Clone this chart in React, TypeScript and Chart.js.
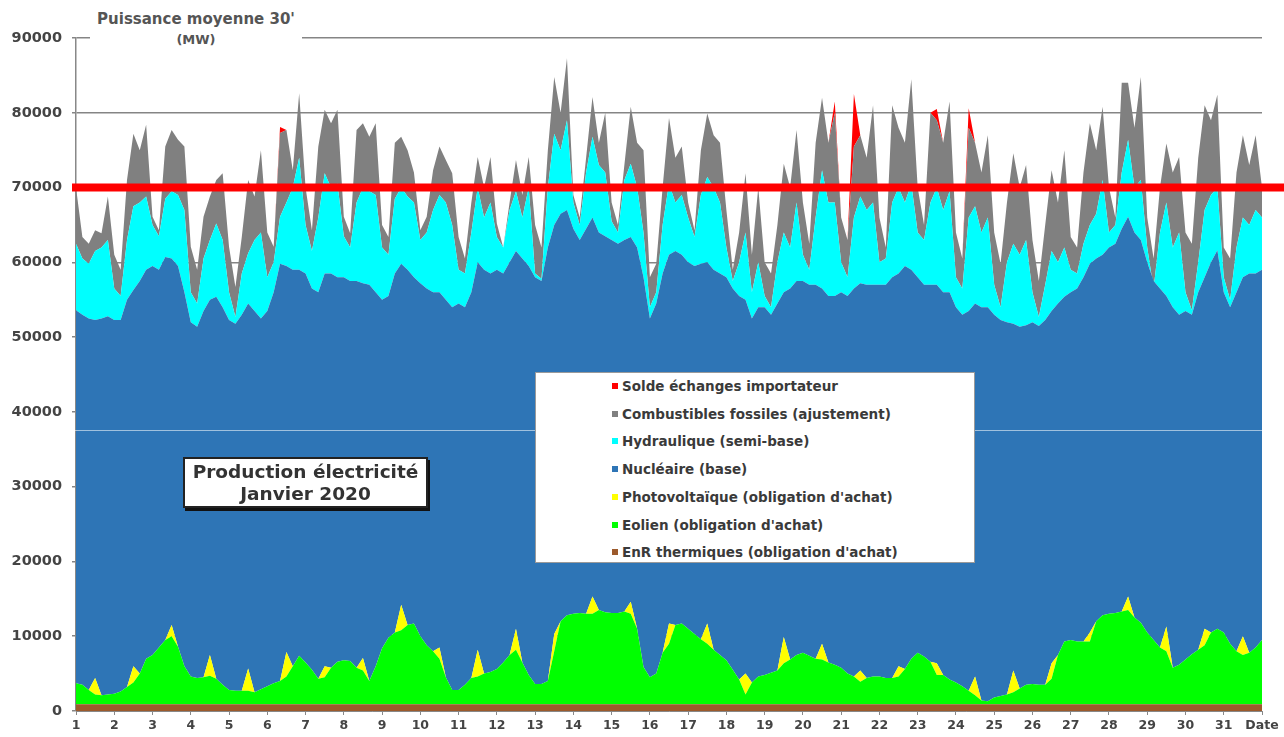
import React, { useEffect, useRef } from "react";
import { Chart, registerables } from "chart.js";

Chart.register(...registerables);

// Pas d'échantillonnage : 6 points par jour (0h, 4h, 8h, 12h, 16h, 20h), 31 jours + point final
const HEURES_PAR_POINT = 4;
const JOURS = Array.from({ length: 31 }, (_, i) => String(i + 1));
const GRADUATIONS_Y = [0, 10000, 20000, 30000, 40000, 50000, 60000, 70000, 80000, 90000];
const SEUIL = 70000;

// Niveaux cumulés (haut de chaque couche, MW)
const niveauEnR = [
  900, 900, 900, 900, 900, 900,
  900, 900, 900, 900, 900, 900,
  900, 900, 900, 900, 900, 900,
  900, 900, 900, 900, 900, 900,
  900, 900, 900, 900, 900, 900,
  900, 900, 900, 900, 900, 900,
  900, 900, 900, 900, 900, 900,
  900, 900, 900, 900, 900, 900,
  900, 900, 900, 900, 900, 900,
  900, 900, 900, 900, 900, 900,
  900, 900, 900, 900, 900, 900,
  900, 900, 900, 900, 900, 900,
  900, 900, 900, 900, 900, 900,
  900, 900, 900, 900, 900, 900,
  900, 900, 900, 900, 900, 900,
  900, 900, 900, 900, 900, 900,
  900, 900, 900, 900, 900, 900,
  900, 900, 900, 900, 900, 900,
  900, 900, 900, 900, 900, 900,
  900, 900, 900, 900, 900, 900,
  900, 900, 900, 900, 900, 900,
  900, 900, 900, 900, 900, 900,
  900, 900, 900, 900, 900, 900,
  900, 900, 900, 900, 900, 900,
  900, 900, 900, 900, 900, 900,
  900, 900, 900, 900, 900, 900,
  900, 900, 900, 900, 900, 900,
  900, 900, 900, 900, 900, 900,
  900, 900, 900, 900, 900, 900,
  900, 900, 900, 900, 900, 900,
  900, 900, 900, 900, 900, 900,
  900,
];

const niveauEolien = [
  3700, 3500, 2800, 2200, 2100, 2200,
  2300, 2600, 3200, 3800, 5000, 7000,
  7500, 8500, 9500, 10000, 8600, 6000,
  4600, 4400, 4500, 4700, 4300, 3500,
  2800, 2700, 2700, 2700, 2500, 2900,
  3300, 3700, 4000, 4600, 6000, 7400,
  6500, 5500, 4300, 4500, 5800, 6600,
  6800, 6700, 5800, 5400, 4000, 6000,
  8400, 9800, 10500, 10800, 11500, 11700,
  10000, 8800, 8000, 7000, 4500, 2800,
  2800, 3500, 4400, 4600, 5000, 5200,
  5600, 6500, 7500, 8200, 6500, 4800,
  3600, 3600, 4000, 8000, 12000, 12800,
  13000, 13100, 13000, 13000, 13500, 13200,
  13100, 13100, 13300, 13000, 11000, 5900,
  4500, 5000, 7800, 9000, 11500, 11700,
  11000, 10300, 9600, 9000, 8200, 7500,
  6800, 5500, 4200, 2200, 3800, 4600,
  4800, 5100, 5400, 6400, 6900, 7500,
  7800, 7400, 7000, 6900, 6500, 6200,
  5800, 5000, 4600, 3900, 4400, 4600,
  4600, 4400, 4400, 4600, 5600, 7000,
  7800, 7300, 6600, 4800, 4800, 4200,
  3800, 3300, 2700, 2100, 1400, 1300,
  1800, 2000, 2200, 2500, 3000, 3500,
  3600, 3500, 3500, 4300, 7500, 9300,
  9500, 9300, 9300, 9300, 12000, 12800,
  13000, 13100, 13300, 13500, 12500, 11800,
  10500, 9500, 8500, 8000, 5800, 6200,
  6900, 7600, 8200, 8800, 10500, 11000,
  10500, 9000, 8000, 7500, 7800, 8500,
  9500,
];

// Photovoltaïque : production propre (MW), non nulle en milieu de journée
const photovoltaique = [
  0, 0, 0, 2200, 0, 0,
  0, 0, 0, 2200, 0, 0,
  0, 0, 0, 1500, 0, 0,
  0, 0, 0, 2800, 0, 0,
  0, 0, 0, 3000, 0, 0,
  0, 0, 0, 3300, 0, 0,
  0, 0, 0, 1500, 0, 0,
  0, 0, 0, 1700, 0, 0,
  0, 0, 0, 3400, 0, 0,
  0, 0, 0, 1500, 0, 0,
  0, 0, 0, 3600, 0, 0,
  0, 0, 0, 2800, 0, 0,
  0, 0, 0, 2300, 0, 0,
  0, 0, 0, 2300, 0, 0,
  0, 0, 0, 1600, 0, 0,
  0, 0, 0, 2700, 0, 0,
  0, 0, 0, 2700, 0, 0,
  0, 0, 0, 2800, 0, 0,
  0, 0, 0, 3500, 0, 0,
  0, 0, 0, 2100, 0, 0,
  0, 0, 0, 1500, 0, 0,
  0, 0, 0, 1400, 0, 0,
  0, 0, 0, 1600, 0, 0,
  0, 0, 0, 2500, 0, 0,
  0, 0, 0, 2900, 0, 0,
  0, 0, 0, 2100, 0, 0,
  0, 0, 0, 1200, 0, 0,
  0, 0, 0, 1800, 0, 0,
  0, 0, 0, 3300, 0, 0,
  0, 0, 0, 2200, 0, 0,
  0, 0, 0, 2500, 0, 0,
  0,
];

const niveauNucleaire = [
  53600, 53000, 52500, 52300, 52500, 52800,
  52300, 52300, 55000, 56300, 57500, 59000,
  59500, 59000, 60700, 60500, 59500, 56000,
  52000, 51400, 53500, 55000, 55400, 54000,
  52300, 51800, 53000, 54500, 53500, 52500,
  53500, 56000, 59800, 59500, 59000, 59000,
  58500, 56500, 56000, 58500, 58500, 58000,
  58000, 57500, 57500, 57200, 57000, 56000,
  55000, 55500, 58500, 59800, 59000, 58000,
  57200, 56500, 56000, 56000, 55000, 54000,
  54500, 54000, 56000, 60000, 59000, 58500,
  59000, 58500, 60000, 61500, 60500, 59500,
  58000, 57500, 62000, 65000, 66500, 67000,
  64500, 63000, 64500, 66000, 64000, 63500,
  63000, 62500, 63000, 63400, 62000, 58000,
  52500, 54500, 58500, 61000, 61500, 61000,
  60000, 59500, 59800, 60000, 59000, 58500,
  58000, 56500, 55500, 55000, 52500, 54000,
  54000, 53000, 54500, 56000, 56500, 57500,
  57500, 57000, 57000, 56500, 55500, 55500,
  56000, 55500, 56500, 57200, 57000, 57000,
  57000, 57000, 58000, 58500, 59500, 59000,
  58000, 57000, 57000, 57000, 56000, 56000,
  54000, 53000, 53500, 54500, 54000, 54000,
  53000, 52300, 52000, 51800, 51400, 51600,
  52000, 51500, 52300, 53500, 54500, 55400,
  56000, 56500, 58000, 59800, 60500, 61000,
  62000, 62500, 64500, 66100, 64000, 63000,
  60000, 57500, 56500, 55500, 54000, 53000,
  53500, 53000, 56000, 58000, 60000, 61600,
  56000, 54000, 56000, 58000, 58500, 58500,
  59000,
];

const niveauHydraulique = [
  62500, 60500, 59800, 61500, 62000, 63000,
  56500, 55500, 63000, 67500, 68000, 68800,
  65000, 63500, 68500, 69500, 69000, 67000,
  56000, 54500, 60500, 63000, 65200, 63000,
  56000, 52700, 58500, 61200, 63000, 64000,
  58000, 60000, 66100, 68000, 70000, 74000,
  65000, 61500, 66000, 71900, 70000, 70500,
  63500, 62000, 68000, 70000, 69500, 69000,
  62000, 61000, 68500, 70000, 68800, 68000,
  63000, 64000, 67000, 69000, 68000, 65000,
  59000, 58500, 64000, 70000, 66000, 68000,
  63400, 62000, 67000, 69500, 66000, 70000,
  58500, 57800, 70000, 77200, 75000, 79000,
  68000, 65000, 72000, 76800, 73000, 72000,
  65500, 64000, 71000, 73200, 70000, 64000,
  54000, 56000, 65000, 70500, 68000, 69000,
  66000, 63400, 69000, 71400, 70000, 68000,
  62000, 57500, 60000, 64000, 56000, 60000,
  55500, 54000, 60000, 64000, 62000, 68000,
  61000, 59000, 66000, 72300, 68000, 68000,
  60000, 58000, 66000, 68800, 67000, 68000,
  60000, 60500, 68000, 70000, 68000, 70500,
  64000, 63000, 68000, 70000, 67000, 69500,
  58000, 56500, 66000, 67500, 64000, 66000,
  57000, 54000, 60000, 62500, 61000, 63000,
  56000, 52700, 57000, 61500, 60000, 62000,
  59000, 58500, 62500, 65000, 66500, 71000,
  64000, 65000, 72000, 76400, 70000, 71000,
  62000, 56500, 64000, 68000, 62000, 64000,
  56000, 53600, 60000, 67000, 69000, 70000,
  58000, 55000, 62000, 66000, 65000, 67000,
  66000,
];

const niveauFossiles = [
  70000, 63400, 62500, 64300, 63900, 68800,
  61000, 59000, 71000, 77200, 75000, 78400,
  66100, 64300, 75500, 77700, 76400, 75500,
  62100, 59000, 66100, 68800, 71000, 71900,
  62100, 56700, 63400, 71000, 68800, 75000,
  64000, 62100, 77300, 77700, 72300, 82600,
  70000, 64300, 75500, 80400, 78600, 80400,
  66100, 63900, 77700, 78600, 76800, 78600,
  65000, 63400, 76000, 76800, 75000, 72000,
  64300, 66100, 72300, 75500, 73700, 71900,
  63400, 60500, 68000, 74100, 70000, 74100,
  65200, 62000, 68000, 73700, 69000, 74100,
  65000, 62000, 75000, 84800, 80000, 87300,
  69000, 66000, 74000, 82100, 76000, 80000,
  68000, 65000, 73000, 80800, 76000, 75000,
  58000, 59800, 70000, 79300, 74000, 75500,
  68000, 64300, 75000, 79900, 77000, 76000,
  67000, 59000, 64000, 71900, 61000, 70000,
  60000, 58500, 65000, 73200, 70000, 77700,
  68000, 62500, 76000, 82000, 76000, 80000,
  66000, 63000, 75500, 77000, 74000, 81000,
  66000, 62000, 81000, 78000, 76000, 84500,
  70000, 65000, 80000, 79000, 76000, 81500,
  64000, 60500, 78000, 76000, 72000, 77000,
  64000, 59800, 68000, 74600, 70000, 73000,
  63000, 57500, 65000, 72300, 68000, 75000,
  63400, 62000, 72000, 78600, 75000, 80800,
  70000, 66000, 84000, 84000, 78000, 84800,
  66000, 60500, 70000, 75900, 72000, 74100,
  64000, 62500, 74000, 81000, 79000, 82400,
  62000, 60500, 72000, 77000, 73000, 77000,
  70000,
];

// Solde des échanges importateur : production propre (MW), rares pointes
const soldeImport = [
  0, 0, 0, 0, 0, 0,
  0, 0, 0, 0, 0, 0,
  0, 0, 0, 0, 0, 0,
  0, 0, 0, 0, 0, 0,
  0, 0, 0, 0, 0, 0,
  0, 0, 800, 0, 0, 0,
  0, 0, 0, 0, 0, 0,
  0, 0, 0, 0, 0, 0,
  0, 0, 0, 0, 0, 0,
  0, 0, 0, 0, 0, 0,
  0, 0, 0, 0, 0, 0,
  0, 0, 0, 0, 0, 0,
  0, 0, 0, 0, 0, 0,
  0, 0, 0, 0, 0, 0,
  0, 0, 0, 0, 0, 0,
  0, 0, 0, 0, 0, 0,
  0, 0, 0, 0, 0, 0,
  0, 0, 0, 0, 0, 0,
  0, 0, 0, 0, 0, 0,
  0, 0, 0, 0, 0, 1500,
  0, 0, 7000, 0, 0, 0,
  0, 0, 0, 0, 0, 0,
  0, 0, 0, 1500, 0, 0,
  0, 0, 2600, 0, 0, 0,
  0, 0, 0, 0, 0, 0,
  0, 0, 0, 0, 0, 0,
  0, 0, 0, 0, 0, 0,
  0, 0, 0, 0, 0, 0,
  0, 0, 0, 0, 0, 0,
  0, 0, 0, 0, 0, 0,
  0, 0, 0, 0, 0, 0,
  0,
];

const COULEURS = {
  solde: "#FF0000",
  fossiles: "#808080",
  hydraulique: "#00FFFF",
  nucleaire: "#2E75B6",
  pv: "#FFFF00",
  eolien: "#00FF00",
  enr: "#9C5A2C",
};

const LEGENDE = [
  { label: "Solde échanges importateur", color: COULEURS.solde },
  { label: "Combustibles fossiles (ajustement)", color: COULEURS.fossiles },
  { label: "Hydraulique (semi-base)", color: COULEURS.hydraulique },
  { label: "Nucléaire (base)", color: COULEURS.nucleaire },
  { label: "Photovoltaïque (obligation d'achat)", color: COULEURS.pv },
  { label: "Eolien (obligation d'achat)", color: COULEURS.eolien },
  { label: "EnR thermiques (obligation d'achat)", color: COULEURS.enr },
];

const FONT = "'DejaVu Sans', 'Liberation Sans', sans-serif";

const seuilPlugin = {
  id: "seuil",
  afterDatasetsDraw(chart: any) {
    const { ctx, scales } = chart;
    const y = scales.y.getPixelForValue(SEUIL);
    const yArt = scales.y.getPixelForValue(37600);
    ctx.save();
    ctx.strokeStyle = "rgba(255,255,255,0.55)";
    ctx.lineWidth = 1;
    ctx.beginPath();
    ctx.moveTo(0, Math.round(yArt) + 0.5);
    ctx.lineTo(chart.width, Math.round(yArt) + 0.5);
    ctx.stroke();
    ctx.strokeStyle = "#FF0000";
    ctx.lineWidth = 8;
    ctx.beginPath();
    ctx.moveTo(scales.x.left - 4, y);
    ctx.lineTo(chart.width, y);
    ctx.stroke();
    ctx.restore();
  },
};

export default function App() {
  const ref = useRef<HTMLCanvasElement>(null);

  useEffect(() => {
    if (!ref.current) return;
    const pts = (arr: number[]) =>
      arr.map((y, i) => ({ x: 1 + (i * HEURES_PAR_POINT) / 24, y }));
    const niveauPV = niveauEolien.map((v, i) => v + photovoltaique[i]);
    const niveauSolde = niveauFossiles.map((v, i) => v + soldeImport[i]);

    const ds = (label: string, data: number[], color: string, fill: any) => ({
      label,
      data: pts(data),
      backgroundColor: color,
      borderColor: color,
      borderWidth: 0,
      pointRadius: 0,
      tension: 0,
      fill,
    });

    const chart = new Chart(ref.current, {
      type: "line",
      data: {
        datasets: [
          ds(LEGENDE[6].label, niveauEnR, COULEURS.enr, "origin"),
          ds(LEGENDE[5].label, niveauEolien, COULEURS.eolien, "-1"),
          ds(LEGENDE[4].label, niveauPV, COULEURS.pv, "-1"),
          ds(LEGENDE[3].label, niveauNucleaire, COULEURS.nucleaire, "-1"),
          ds(LEGENDE[2].label, niveauHydraulique, COULEURS.hydraulique, "-1"),
          ds(LEGENDE[1].label, niveauFossiles, COULEURS.fossiles, "-1"),
          ds(LEGENDE[0].label, niveauSolde, COULEURS.solde, "-1"),
        ],
      },
      options: {
        responsive: false,
        animation: false,
        layout: { padding: { top: 38, right: 22, left: 0, bottom: 0 } },
        plugins: { legend: { display: false }, tooltip: { enabled: false } },
        scales: {
          x: {
            type: "linear",
            min: 1,
            max: 32,
            afterFit: (s: any) => {
              s.height = 26;
            },
            afterBuildTicks: (s: any) => {
              s.ticks = Array.from({ length: 32 }, (_, i) => ({ value: i + 1 }));
            },
            ticks: {
              autoSkip: false,
              maxRotation: 0,
              padding: 3,
              color: "#444",
              font: { family: FONT, weight: "bold", size: 12.5 },
              callback: (v: any) => (v === 32 ? "Date" : JOURS[v - 1]),
            },
            grid: { drawOnChartArea: false, drawTicks: true, tickLength: 4, color: "#888" },
            border: { color: "#888", width: 1 },
          },
          y: {
            min: 0,
            max: 90000,
            afterFit: (s: any) => {
              s.width = 76;
            },
            afterBuildTicks: (s: any) => {
              s.ticks = GRADUATIONS_Y.map((v) => ({ value: v }));
            },
            ticks: {
              padding: 10,
              color: "#444",
              font: { family: FONT, weight: "bold", size: 14.5 },
              callback: (v: any) => String(v),
            },
            grid: { color: "#858585", lineWidth: 1.5, tickLength: 4 },
            border: { color: "#888", width: 1.5 },
          },
        },
      } as any,
      plugins: [seuilPlugin],
    });
    return () => chart.destroy();
  }, []);

  return (
    <div
      style={{
        position: "fixed",
        left: 0,
        top: 0,
        width: 1284,
        height: 737,
        background: "#fff",
        overflow: "hidden",
      }}
    >
      <canvas ref={ref} width={1284} height={737} style={{ position: "absolute", left: 0, top: 0 }} />
      <div
        style={{
          position: "absolute",
          left: 90,
          top: 8,
          width: 212,
          height: 44,
          background: "#fff",
          textAlign: "center",
          fontFamily: FONT,
          fontWeight: "bold",
          color: "#555",
        }}
      >
        <div style={{ position: "absolute", left: 0, right: 0, top: 2, fontSize: 15, lineHeight: "19px" }}>
          Puissance moyenne 30'
        </div>
        <div style={{ position: "absolute", left: 0, right: 0, top: 24, fontSize: 13, lineHeight: "16px" }}>
          (MW)
        </div>
      </div>
      <div
        style={{
          position: "absolute",
          left: 535,
          top: 372,
          width: 440,
          height: 191,
          background: "#fff",
          border: "1px solid #9a9a9a",
          boxSizing: "border-box",
          fontFamily: FONT,
          fontWeight: "bold",
          fontSize: 13.5,
          color: "#3a3a3a",
        }}
      >
        {LEGENDE.map((it, i) => (
          <div
            key={it.label}
            style={{
              position: "absolute",
              left: 76,
              top: 3 + i * 27.7,
              height: 20,
              display: "flex",
              alignItems: "center",
              whiteSpace: "nowrap",
            }}
          >
            <span
              style={{
                display: "inline-block",
                width: 6,
                height: 6,
                background: it.color,
                marginRight: 4,
              }}
            />
            <span>{it.label}</span>
          </div>
        ))}
      </div>
      <div
        style={{
          position: "absolute",
          left: 183,
          top: 457,
          width: 245,
          height: 51,
          background: "#fff",
          border: "2px solid #222",
          boxShadow: "2px 3px 0 #111",
          boxSizing: "border-box",
          textAlign: "center",
          fontFamily: FONT,
          fontWeight: "bold",
          fontSize: 18.5,
          lineHeight: "22px",
          color: "#333",
          paddingTop: 2,
        }}
      >
        <div>Production électricité</div>
        <div>Janvier 2020</div>
      </div>
    </div>
  );
}
